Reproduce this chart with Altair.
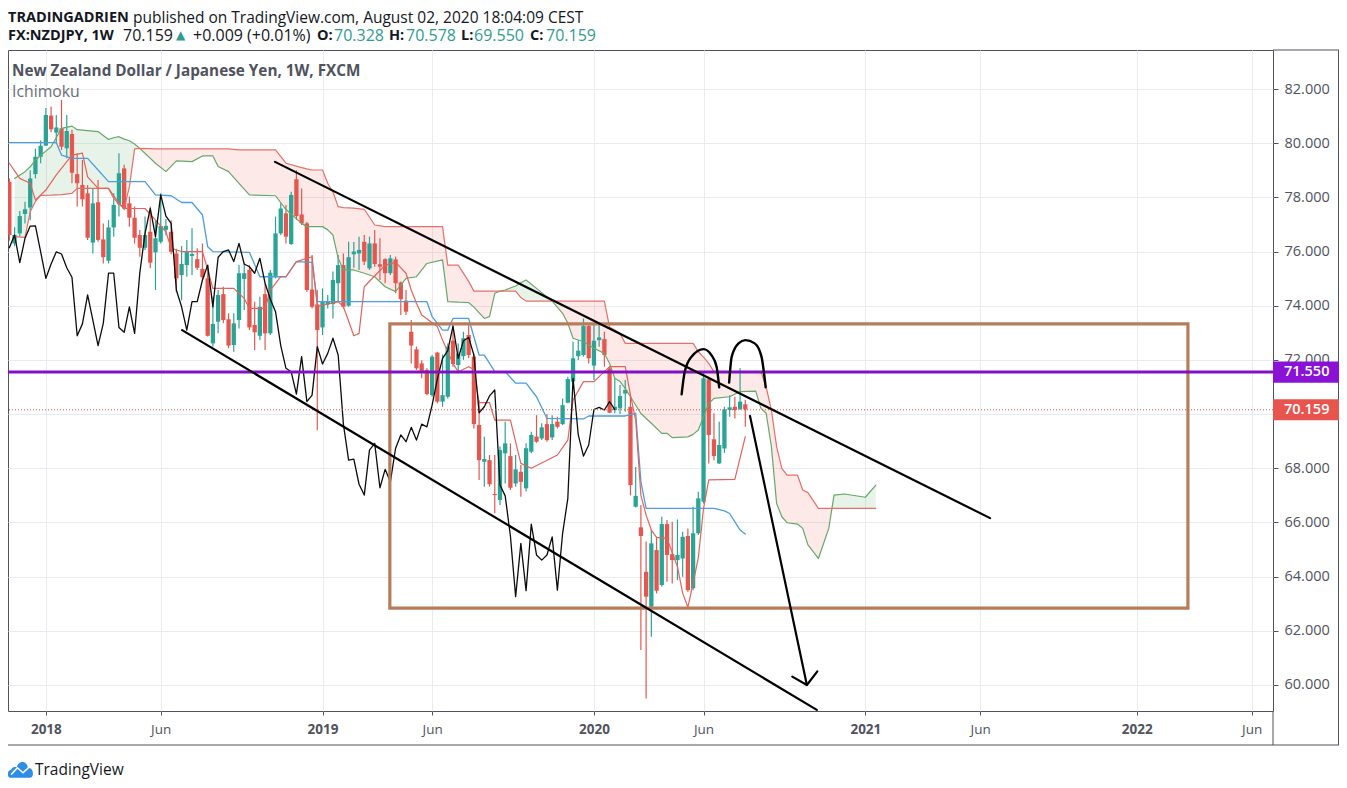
import altair as alt
import pandas as pd

# ---- candles (k = weekly bar number, bar 0 = week of 2017-11-13)
opens = [78.58,76.30,76.67,77.39,77.63,78.86,79.50,79.91,81.02,80.39,80.55,79.81,80.34,78.86,78.46,78.15,76.33,77.82,76.45,75.66,
76.89,77.75,79.07,77.78,77.25,76.61,76.14,76.73,75.97,76.36,76.80,76.73,75.93,75.13,75.50,75.84,75.72,75.36,75.01,72.61,
73.41,74.43,73.50,72.55,73.47,74.99,75.32,73.29,72.89,74.43,72.98,75.10,76.67,77.41,76.28,78.67,77.37,77.04,74.60,74.05,
73.20,74.05,74.06,74.83,75.50,74.00,75.90,75.93,76.36,75.38,76.30,75.53,75.72,75.20,75.71,74.86,74.19,73.04,72.39,71.87,
71.63,70.70,72.27,70.46,70.64,72.71,71.81,72.14,72.92,72.12,69.60,68.24,68.30,67.05,66.83,68.55,68.45,67.44,67.87,67.26,
68.61,69.17,69.10,69.63,69.14,69.72,69.63,70.42,71.20,72.14,72.18,73.25,71.79,72.73,72.77,71.69,70.15,70.21,70.76,70.27,
66.58,65.82,64.18,62.89,64.98,63.69,65.94,64.83,64.61,64.67,65.50,63.57,65.60,66.77,71.28,69.07,68.18,68.73,70.15,70.27,
70.19,70.36]
highs = [78.70,76.90,77.50,77.84,79.00,79.80,80.10,81.30,81.35,81.04,81.60,81.04,80.50,79.63,79.38,78.46,78.33,78.64,77.04,77.16,
78.15,79.63,79.20,78.03,77.66,76.80,77.29,77.66,77.16,78.15,77.20,77.16,76.10,76.20,76.43,76.86,76.12,76.30,75.50,74.33,
74.58,74.70,73.72,73.72,75.50,75.56,75.50,74.15,74.33,74.83,75.32,77.29,77.78,77.72,78.21,79.00,78.33,77.10,75.87,74.58,
74.64,74.40,75.26,75.87,75.93,76.36,76.35,76.55,76.61,76.55,76.80,76.49,75.75,75.87,75.81,74.89,74.58,73.47,72.49,71.99,
71.69,72.18,72.30,72.20,72.61,73.29,72.61,73.04,73.29,72.24,70.50,69.16,68.49,68.49,68.80,69.72,68.92,68.49,68.12,68.92,
69.35,69.96,69.66,70.00,69.96,69.90,70.58,71.38,72.67,72.73,73.53,73.35,73.29,73.35,73.04,71.75,71.32,71.07,71.26,70.70,
68.05,66.64,65.30,65.72,65.47,66.21,66.09,66.03,66.11,65.66,65.78,66.58,67.13,71.56,71.38,70.03,69.72,70.27,70.70,70.64,
71.69,70.52]
lows = [76.40,76.20,76.55,77.04,77.16,78.70,79.26,79.90,80.40,80.00,79.75,79.44,78.52,77.66,77.66,76.43,75.93,76.36,75.56,75.56,
76.55,77.29,77.53,76.92,76.30,75.81,76.06,75.38,74.58,76.30,76.60,75.90,74.50,74.20,75.07,75.13,75.32,74.95,72.86,72.49,
72.98,73.35,72.43,72.30,73.16,73.84,73.10,72.37,72.73,72.37,72.92,75.01,76.61,76.30,76.24,77.16,76.98,74.52,73.90,69.40,
72.92,73.90,73.53,74.15,73.90,73.96,75.40,75.32,75.50,75.32,75.44,74.95,74.83,75.13,74.46,73.66,73.66,71.87,71.63,71.32,
70.70,70.64,70.40,70.27,70.58,71.75,71.50,72.00,72.06,69.47,67.57,67.32,67.32,66.34,66.64,67.44,67.20,67.32,66.95,67.14,
68.55,68.94,69.04,68.98,69.04,69.47,69.60,70.40,71.13,72.00,72.12,71.87,71.26,72.49,71.75,70.03,70.03,70.00,70.09,67.00,
66.55,61.29,59.50,61.78,63.38,63.63,63.81,63.75,63.87,64.00,63.44,63.50,65.54,66.70,68.18,68.30,68.16,68.57,69.90,69.84,
70.15,69.53]
closes = [76.61,76.61,77.31,77.56,78.70,79.50,79.91,81.04,80.51,80.58,79.87,80.45,78.91,78.52,77.93,76.51,77.78,76.43,75.79,76.89,
77.72,78.89,77.59,77.25,76.51,76.14,76.61,75.59,76.49,76.94,76.95,75.99,75.01,75.54,75.99,75.91,75.40,75.05,72.89,73.33,
74.40,73.47,72.53,73.35,75.20,75.20,73.20,73.02,73.96,72.98,75.22,76.67,77.59,76.55,78.09,77.31,77.04,74.58,73.96,73.10,
74.15,74.15,74.95,75.50,73.96,75.79,76.00,76.06,75.63,76.30,75.54,75.44,75.20,75.75,74.83,74.24,73.78,72.53,71.69,71.56,
70.74,72.12,70.46,70.70,72.49,71.85,72.24,72.80,72.18,69.63,68.30,68.34,67.41,67.01,68.67,68.92,67.28,67.96,67.50,68.74,
69.23,68.98,69.51,69.04,69.63,69.53,70.33,71.29,72.06,72.34,73.25,72.06,72.71,72.83,72.18,70.05,70.27,70.67,70.89,67.38,
66.98,65.50,63.26,65.23,63.48,65.94,64.80,64.61,64.80,65.47,63.50,65.60,66.89,71.32,69.23,68.45,68.86,70.17,70.25,70.15,
70.46,70.17]

# ---- Ichimoku lines
chikou = [76.14,76.61,75.59,76.49,76.94,76.95,75.99,75.01,75.54,75.99,75.91,75.40,75.05,72.89,73.33,74.40,73.47,72.53,73.35,75.20,
75.20,73.20,73.02,73.96,72.98,75.22,76.67,77.59,76.55,78.09,77.31,77.04,74.58,73.96,73.10,74.15,74.15,74.95,75.50,73.96,
75.79,76.00,76.06,75.63,76.30,75.54,75.44,75.20,75.75,74.83,74.24,73.78,72.53,71.69,71.56,70.74,72.12,70.46,70.70,72.49,
71.85,72.24,72.80,72.18,69.63,68.30,68.34,67.41,67.01,68.67,68.92,67.28,67.96,67.50,68.74,69.23,68.98,69.51,69.04,69.63,
69.53,70.33,71.29,72.06,72.34,73.25,72.06,72.71,72.83,72.18,70.05,70.27,70.67,70.89,67.38,66.98,65.50,63.26,65.23,63.48,
65.94,64.80,64.61,64.80,65.47,63.50,65.60,66.89,71.32,69.23,68.45,68.86,70.17,70.25,70.15,70.46,70.17]

tenkan_k = [0,2,4,5,7,9,12,14,15,17,19,21,22,26,28,30,31,33,37,38,39,43,45,46,49,50,52,53,55,58,59,62,63,64,66,67,68,71,72,74,76,77,78,79,82,83,84,85,86,88,89,90,92,93,96,98,100,105,107,108,110,112,115,118,119,120,121,122,123,124,126,128,129,130,131,132,133,134,139,141]
tenkan_v = [79.26,78.70,78.52,77.90,78.27,78.83,79.56,79.63,78.76,78.33,78.33,77.78,77.59,77.59,77.16,76.73,76.12,76.00,76.00,75.32,74.64,74.64,74.27,73.90,73.90,74.58,75.07,75.07,75.63,75.81,73.97,74.10,74.15,73.97,72.89,72.98,74.70,75.30,75.50,75.60,75.20,74.58,74.09,73.66,73.23,72.73,72.30,71.87,71.56,71.75,71.65,70.42,70.42,69.78,69.78,68.18,68.00,68.49,69.04,70.52,71.20,71.20,71.75,71.75,70.70,69.78,67.00,66.27,65.72,65.45,65.41,64.37,63.39,62.87,63.75,64.70,66.52,67.57,67.59,69.17]

kijun_k = [0,9,10,12,15,17,19,26,28,31,33,35,37,38,39,46,48,53,55,58,59,80,81,83,84,85,88,90,91,93,95,97,99,101,103,110,111,118,120,121,122,135,137,138,140,141]
kijun_v = [80.02,80.02,79.56,79.44,79.44,79.01,78.58,78.58,78.09,78.06,77.81,77.81,77.35,76.18,76.00,75.97,75.07,75.07,75.63,75.60,74.15,74.15,73.60,73.10,73.10,73.53,73.53,72.18,72.18,71.57,71.57,71.14,71.14,70.64,69.84,69.82,69.93,69.93,70.03,67.50,66.52,66.52,66.43,66.33,65.72,65.57]

cloud_k = [1,3,4,5,6,8,10,12,13,17,19,20,21,22,23,24,25,28,30,32,35,37,39,40,42,44,46,51,53,56,57,58,60,61,62,63,64,66,68,70,72,74,76,78,80,83,84,86,88,89,91,92,93,94,95,97,98,99,101,104,106,107,108,110,112,114,115,116,117,118,119,121,123,125,126,127,130,131,132,133,134,135,138,140,143,144,145,146,147,148,149,151,152,153,155,157,157.6,158,160,164,166]
span_a = [78.70,78.95,79.13,79.38,79.55,79.87,80.55,80.63,80.50,80.43,80.14,80.20,80.24,80.15,80.09,79.97,79.81,79.26,78.95,79.35,79.32,79.53,79.53,79.14,78.95,78.52,78.09,78.06,77.55,77.04,76.92,76.92,76.92,76.80,76.61,75.75,75.32,75.32,75.20,75.07,74.70,74.52,75.01,75.07,75.56,75.69,74.15,74.13,74.12,73.95,73.53,73.60,74.46,74.54,74.58,74.73,74.85,74.95,74.64,74.17,73.72,73.35,72.80,72.67,72.43,72.24,71.87,71.32,71.20,70.95,70.64,70.02,69.66,69.29,69.29,69.13,69.16,69.25,69.41,69.90,70.39,70.58,70.64,70.83,70.85,70.21,70.03,68.80,66.70,66.21,65.99,65.94,65.78,65.17,64.67,65.78,66.52,67.01,67.05,66.93,67.38]
span_b = [76.55,76.52,77.47,77.85,78.07,78.08,78.10,78.15,78.33,78.33,78.33,77.96,77.75,77.59,78.39,79.79,79.81,79.79,79.79,79.79,79.79,79.79,79.79,79.79,79.79,79.75,79.75,79.75,79.26,79.10,79.05,79.01,79.01,78.52,78.20,77.66,77.62,77.60,77.56,76.98,76.92,76.92,76.92,76.92,76.92,76.92,75.50,75.50,74.90,74.54,74.54,74.54,74.54,74.54,74.54,74.54,74.30,74.17,74.17,74.17,74.17,74.17,74.17,74.17,74.17,74.17,73.20,73.10,72.98,72.61,72.61,72.61,72.61,72.61,72.61,72.61,72.61,72.61,72.30,72.10,71.87,71.56,71.56,71.56,71.56,71.56,71.00,70.15,68.80,68.00,67.75,67.75,67.20,67.10,66.52,66.52,66.52,66.52,66.52,66.52,66.52]

# ---- drawings (bar number, price)
upper_k, upper_v = [50.9, 187.9], [79.31, 66.16]
lower_k, lower_v = [33.1, 154.7], [73.10, 59.08]
arrow_k, arrow_v = [141.9, 152.8], [69.93, 60.00]
head_k, head_v = [150.0, 152.8, 154.8], [60.31, 60.00, 60.50]
arc1_k = [128.8, 129.4, 130.7, 133.0, 134.5, 135.5, 136.0]
arc1_v = [70.73, 71.56, 72.12, 72.40, 72.18, 71.75, 70.99]
arc2_k = [137.9, 138.4, 139.7, 141.0, 142.8, 144.1, 144.9]
arc2_v = [71.16, 72.12, 72.61, 72.73, 72.61, 72.12, 70.99]
box_k, box_v = [72.9, 225.8], [73.33, 62.84]
level_purple = 71.55
level_last = 70.159

BASE = pd.Timestamp("2017-11-13")
def day(k):
    return BASE + pd.to_timedelta(k * 7, unit="D")

x_dom = [day(-0.255).isoformat(), day(242.1).isoformat()]
x_scale = alt.Scale(domain=x_dom, nice=False, padding=0)
y_scale = alt.Scale(domain=[59.04, 83.44], nice=False, zero=False)

tick_dates = [(2018, 1, 1), (2018, 6, 4), (2019, 1, 7), (2019, 6, 3), (2020, 1, 6),
              (2020, 6, 1), (2021, 1, 4), (2021, 6, 7), (2022, 1, 3), (2022, 6, 6)]
x_axis = alt.Axis(
    title=None,
    values=[alt.DateTime(year=y, month=m, date=d) for y, m, d in tick_dates],
    labelExpr="month(datum.value)==0 ? timeFormat(datum.value,'%Y') : 'Jun'",
    labelFontWeight={"condition": {"test": "month(datum.value)==0", "value": "bold"}, "value": "normal"},
    grid=True, gridColor="#e8ecf1", gridWidth=1,
    domain=False, ticks=True, tickSize=4, tickColor="#50535e", labelPadding=7,
    labelFont="Open Sans", labelFontSize=13.5, labelColor="#50535e", labelFlush=False, labelOverlap=False,
)
y_axis = alt.Axis(
    title=None, orient="right",
    values=list(range(60, 84, 2)), format=".3f",
    grid=True, gridColor="#e8ecf1", gridWidth=1,
    domain=False, tickSize=5, tickColor="#50535e",
    labelPadding=6, labelFont="Open Sans", labelFontSize=14.5, labelColor="#50535e", labelOverlap=False,
)
def X(f): return alt.X(f, type="temporal", scale=x_scale, axis=x_axis)
def Y(f): return alt.Y(f, type="quantitative", scale=y_scale, axis=y_axis)

def series(ks, vs):
    return pd.DataFrame({"d": [day(k) for k in ks], "v": vs})

def line(ks, vs, color, width=1.0, interp="linear", clip=True):
    return alt.Chart(series(ks, vs)).mark_line(color=color, strokeWidth=width, interpolate=interp, clip=clip,
                                               strokeCap="round", strokeJoin="round").encode(x=X("d"), y=Y("v"))

# candles
n = list(range(len(closes)))
candles = pd.DataFrame({
    "d": [day(k) for k in n], "o": opens, "h": highs, "l": lows, "c": closes,
    "dir": ["up" if c >= o else "down" for o, c in zip(opens, closes)],
})
dir_color = alt.Color("dir:N", scale=alt.Scale(domain=["up", "down"], range=["#2ba496", "#e4574f"]), legend=None)
wicks = alt.Chart(candles).mark_rule(strokeWidth=1.2, clip=True).encode(x=X("d"), y=Y("l"), y2="h", color=dir_color)
bodies = alt.Chart(candles).mark_bar(size=4.3, clip=True).encode(x=X("d"), y=Y("o"), y2="c", color=dir_color)

# cloud fill, one area per stretch between crossings
rows, seg = [], 0
sign = None
for i in range(len(cloud_k) - 1):
    s = (span_a[i] + span_a[i + 1]) - (span_b[i] + span_b[i + 1])
    s = "green" if s > 0 else "red"
    if s != sign:
        seg += 1
        sign = s
    for j in (i, i + 1):
        rows.append({"d": day(cloud_k[j]), "a": span_a[j], "b": span_b[j], "seg": seg, "kind": s})
fill = pd.DataFrame(rows)
cloud = alt.Chart(fill).mark_area(clip=True, opacity=0.12, interpolate="linear").encode(
    x=X("d"), y=Y("a"), y2="b", detail="seg:N",
    fill=alt.Fill("kind:N", scale=alt.Scale(domain=["green", "red"], range=["#3d9c48", "#ef4b45"]), legend=None),
)

# brown box
box = alt.Chart(pd.DataFrame({"x0": [day(box_k[0])], "x1": [day(box_k[1])], "y0": [box_v[0]], "y1": [box_v[1]]})).mark_rect(
    fill=None, stroke="#b57d5b", strokeWidth=3.2).encode(x=X("x0"), x2="x1", y=Y("y0"), y2="y1")

# price levels
lev = pd.DataFrame({"p": [level_last]})
last_line = alt.Chart(lev).mark_rule(color="#cf5048", strokeWidth=1, strokeDash=[1, 2]).encode(y=Y("p"))
purple = alt.Chart(pd.DataFrame({"p": [level_purple]})).mark_rule(color="#8311c4", strokeWidth=3).encode(y=Y("p"))

def price_tag(p, color):
    d = pd.DataFrame({"p": [p], "t": [p + 0.39], "b": [p - 0.39], "s": [f"{p:.3f}"]})
    r = alt.Chart(d).mark_rect(color=color).encode(x=alt.value(1265), x2=alt.value(1331), y=Y("t"), y2="b")
    tx = alt.Chart(d).mark_text(align="left", baseline="middle", color="#fff", font="Open Sans", fontSize=14.5, fontWeight=600).encode(
        x=alt.value(1276), y=Y("p"), text="s:N")
    return r + tx

def label(s, px, py, size=14.5, color="#131722", weight="normal", font="Open Sans"):
    return alt.Chart(pd.DataFrame({"s": [s]})).mark_text(
        align="left", baseline="middle", fontSize=size, color=color, fontWeight=weight, font=font
    ).encode(x=alt.value(px - 8), y=alt.value(py - 50), text="s:N")

def frame(x0, x1, y0, y1, color="#50535e"):
    return alt.Chart(pd.DataFrame({"a": [0]})).mark_rule(color=color, strokeWidth=1).encode(
        x=alt.value(x0 - 8), x2=alt.value(x1 - 8), y=alt.value(y0 - 50), y2=alt.value(y1 - 50))

TEAL = "#2f9c90"
texts = [
    label("TRADINGADRIEN", 8, 18, 14.5, weight="bold"),
    label("published on TradingView.com, August 02, 2020 18:04:09 CEST", 133, 18, 15.5),
    label("FX:NZDJPY, 1W", 8, 36, 14.5, weight="bold"),
    label("70.159", 123, 36, 16),
    label("▲", 176, 35, 12, color=TEAL, font="DejaVu Sans"),
    label("+0.009 (+0.01%)", 193, 36, 16),
    label("O:", 317, 36, 14.5, weight="bold"), label("70.328", 334, 36, 16, color=TEAL),
    label("H:", 389, 36, 14.5, weight="bold"), label("70.578", 406, 36, 16, color=TEAL),
    label("L:", 461, 36, 14.5, weight="bold"), label("69.550", 474, 36, 16, color=TEAL),
    label("C:", 530, 36, 14.5, weight="bold"), label("70.159", 546, 36, 16, color=TEAL),
    label("New Zealand Dollar / Japanese Yen, 1W, FXCM", 12, 71, 15.3, color="#50535e", weight="bold"),
    label("Ichimoku", 12, 92, 15.8, color="#6a6d78"),
    label("TradingView", 35, 770, 15.5, color="#131722"),
]
logo = alt.Chart(pd.DataFrame({"a": [0]})).mark_point(
    shape="M-0.8,0.7 C-1.1,0.7 -1.1,0.1 -0.75,0.05 C-0.65,-0.2 -0.4,-0.15 -0.3,-0.15 C-0.15,-0.7 0.5,-0.7 0.6,-0.1 C1.1,-0.1 1.1,0.7 0.75,0.7 Z",
    filled=True, size=625, color="#2e8de6", opacity=1,
).encode(x=alt.value(20.5 - 8), y=alt.value(769 - 50))
logo_line = alt.Chart(pd.DataFrame({"a": [0]})).mark_point(
    shape="M-0.75,0.45 L-0.25,-0.1 L0.2,0.3 L0.8,-0.25",
    filled=False, size=625, color="#ffffff", strokeWidth=1.6, opacity=1,
).encode(x=alt.value(20.5 - 8), y=alt.value(769 - 50))

layers = [
    cloud,
    bodies, wicks,
    line(cloud_k, span_a, "#66a86a", 1.2),
    line(cloud_k, span_b, "#e5706a", 1.2),
    line(kijun_k, kijun_v, "#4a9fdc", 1.3),
    line(tenkan_k, tenkan_v, "#e2645c", 1.2),
    line(list(range(len(chikou))), chikou, "#0c0c0c", 1.3),
    box, last_line, purple,
    line(upper_k, upper_v, "#000", 2.2),
    line(lower_k, lower_v, "#000", 2.2),
    line(arrow_k, arrow_v, "#000", 2.2),
    line(head_k, head_v, "#000", 2.2),
    line(arc1_k, arc1_v, "#000", 2.4, "monotone"),
    line(arc2_k, arc2_v, "#000", 2.4, "monotone"),
    frame(1273, 1273, 711, 745), frame(8, 1339, 745, 745), frame(1273, 1339, 50, 50),
    frame(1338.5, 1338.5, 50, 745),
    price_tag(level_purple, "#8a12d4"), price_tag(level_last, "#e8554e"),
    logo, logo_line,
] + texts

chart = alt.layer(*layers).properties(
    width=1265, height=661,
    autosize=alt.AutoSizeParams(type="none"),
    padding={"left": 0, "top": 42, "right": 66, "bottom": 69},
    background="#ffffff",
).configure_view(stroke="#50535e", strokeWidth=1)

chart.save("out.html", embed_options={"renderer": "svg", "actions": False})
